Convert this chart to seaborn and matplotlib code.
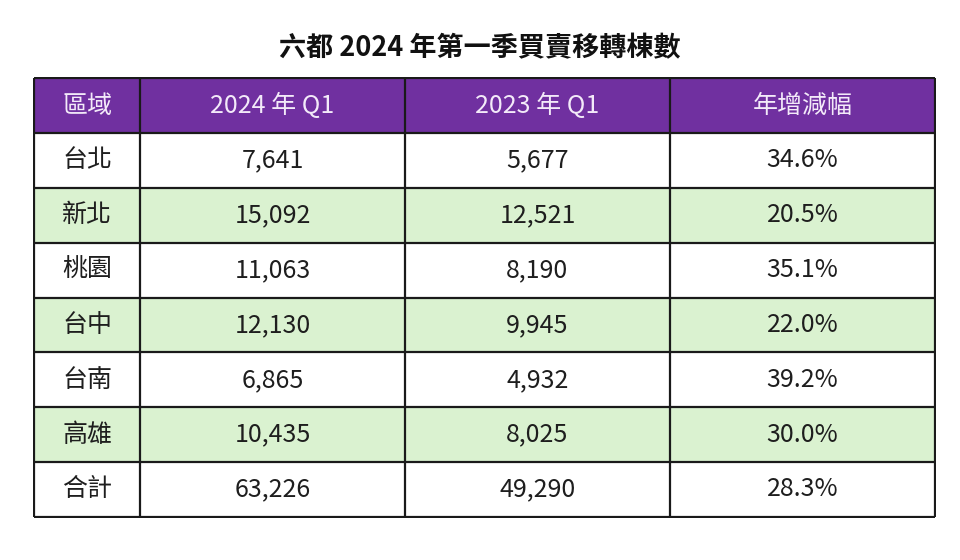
import numpy as np
import pandas as pd
import matplotlib
matplotlib.use("Agg")
import matplotlib.pyplot as plt
import seaborn as sns
from matplotlib.colors import ListedColormap

title = "六都 2024 年第一季買賣移轉棟數"
headers = ["區域", "2024 年 Q1", "2023 年 Q1", "年增減幅"]
regions = ["台北", "新北", "桃園", "台中", "台南", "高雄", "合計"]
q1_2024 = [7641, 15092, 11063, 12130, 6865, 10435, 63226]
q1_2023 = [5677, 12521, 8190, 9945, 4932, 8025, 49290]
yoy_pct = [34.6, 20.5, 35.1, 22.0, 39.2, 30.0, 28.3]

sns.set_theme(style="white")
plt.rcParams['font.family'] = ['Noto Sans CJK TC', 'DejaVu Sans']

# column width units (first col narrower)
col_units = [2, 5, 5, 5]
n_rows = len(regions) + 1
total_units = sum(col_units)

# color code per row: 0 header, 1 white, 2 green
row_codes = [0] + [1 if i % 2 == 0 else 2 for i in range(len(regions))]
mat = np.array([[c] * total_units for c in row_codes])
df = pd.DataFrame(mat)

cmap = ListedColormap(["#7030A0", "#FFFFFF", "#DAF2D0"])

fig = plt.figure(figsize=(9.6, 5.6), dpi=100)
ax = fig.add_axes([33 / 960, 1 - 518 / 560, (936 - 33) / 960, (518 - 77) / 560])
sns.heatmap(df, ax=ax, cmap=cmap, vmin=-0.5, vmax=2.5, cbar=False,
            xticklabels=False, yticklabels=False, linewidths=0)

edges = np.concatenate([[0], np.cumsum(col_units)])
centers = (edges[:-1] + edges[1:]) / 2

# grid lines
ax.vlines(edges, 0, n_rows, colors="#1a1a1a", linewidth=1.6)
ax.hlines(np.arange(n_rows + 1), 0, total_units, colors="#1a1a1a", linewidth=1.6)
ax.set_xlim(-0.02, total_units + 0.02)
ax.set_ylim(n_rows + 0.02, -0.02)
for s in ax.spines.values():
    s.set_visible(False)

fs = 18
for j, h in enumerate(headers):
    ax.text(centers[j], 0.5, h, ha="center", va="center", fontsize=fs,
            color="#F3EAF9")

for i, r in enumerate(regions):
    y = i + 1.5
    vals = [r, f"{q1_2024[i]:,}", f"{q1_2023[i]:,}", f"{yoy_pct[i]:.1f}%"]
    for j, v in enumerate(vals):
        ax.text(centers[j], y, v, ha="center", va="center", fontsize=fs,
                color="#1e1e1e")

fig.text(0.5, 1 - 48 / 560, title, ha="center", va="center", fontsize=19.5,
         fontweight="bold", color="#111111")

fig.savefig("out.png", dpi=100, facecolor="white")
